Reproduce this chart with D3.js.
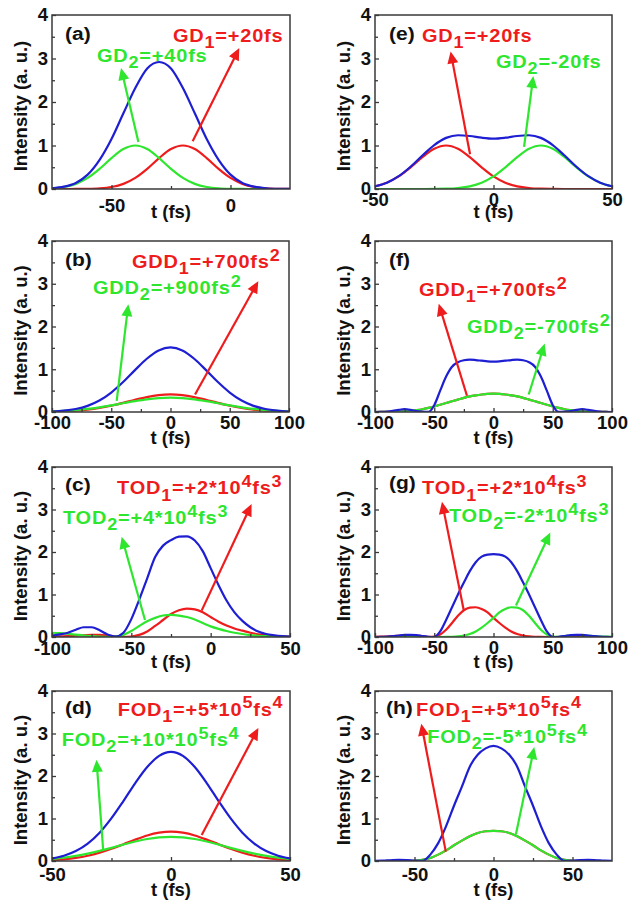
<!DOCTYPE html>
<html>
<head>
<meta charset="utf-8">
<script src="https://cdn.jsdelivr.net/npm/d3@7"></script>
<style>
  body { margin: 0; background: #fff; }
  text { font-family: "Liberation Sans", Arial, sans-serif; font-weight: bold; }
</style>
</head>
<body>
<svg id="chart" width="628" height="905"></svg>
<script>
// ---- values (intensity, a.u.) ----
var tA = [-75,-70,-65,-60,-55,-50,-45,-40,-35,-30,-25,-20,-15,-10,-5,0,5,10,15,20,25];
var redA = [0,0.0002,0.001,0.004,0.015,0.046,0.118,0.255,0.463,0.71,0.918,1,0.918,0.71,0.463,0.255,0.118,0.046,0.015,0.004,0.001];
var greenA = [0.015,0.046,0.118,0.255,0.463,0.71,0.918,1,0.918,0.71,0.463,0.255,0.118,0.046,0.015,0.004,0.001,0.0002,0,0,0];
var blueA = [0.016,0.053,0.14,0.33,0.67,1.15,1.74,2.32,2.77,2.92,2.77,2.32,1.74,1.15,0.67,0.33,0.14,0.053,0.016,0.004,0.001];

var tE = [-50,-45,-40,-35,-30,-25,-20,-15,-10,-5,0,5,10,15,20,25,30,35,40,45,50];
var redE = [0.062,0.144,0.289,0.498,0.733,0.925,1,0.925,0.733,0.498,0.289,0.144,0.062,0.023,0.007,0.002,0.0004,0,0,0,0];
var greenE = [0,0,0,0,0.0004,0.002,0.007,0.023,0.062,0.144,0.289,0.498,0.733,0.925,1,0.925,0.733,0.498,0.289,0.144,0.062];
var blueE = [0.062,0.146,0.294,0.511,0.77,1.01,1.175,1.236,1.219,1.179,1.158,1.179,1.219,1.236,1.175,1.01,0.77,0.511,0.294,0.146,0.062];

var tB = [-100,-90,-80,-70,-60,-50,-40,-30,-20,-10,0,10,20,30,40,50,60,70,80,90,100];
var redB = [0.007,0.015,0.030,0.056,0.095,0.149,0.214,0.285,0.349,0.394,0.41,0.394,0.349,0.285,0.214,0.149,0.095,0.056,0.030,0.015,0.007];
var greenB = [0.015,0.027,0.046,0.073,0.110,0.154,0.204,0.253,0.296,0.325,0.335,0.325,0.296,0.253,0.204,0.154,0.110,0.073,0.046,0.027,0.015];
var blueB = [0.012,0.031,0.070,0.144,0.268,0.455,0.700,0.980,1.246,1.44,1.51,1.44,1.246,0.980,0.700,0.455,0.268,0.144,0.070,0.031,0.012];

var tF = [-100,-95,-90,-85,-80,-75,-70,-65,-60,-55,-50,-45,-40,-35,-30,-25,-20,-15,-10,-5,0,5,10,15,20,25,30,35,40,45,50,55,60,65,70,75,80,85,90,95,100];
var redF = [0,0.001,0.002,0.004,0.008,0.015,0.025,0.043,0.065,0.095,0.13,0.17,0.21,0.25,0.29,0.33,0.365,0.39,0.41,0.425,0.43,0.425,0.41,0.39,0.365,0.33,0.29,0.25,0.21,0.17,0.13,0.095,0.065,0.043,0.025,0.015,0.008,0.004,0.002,0.001,0];
var greenF = [0,0.001,0.002,0.004,0.008,0.015,0.025,0.043,0.065,0.095,0.13,0.17,0.21,0.25,0.29,0.33,0.365,0.39,0.41,0.425,0.43,0.425,0.41,0.39,0.365,0.33,0.29,0.25,0.21,0.17,0.13,0.095,0.065,0.043,0.025,0.015,0.008,0.004,0.002,0.001,0];
var blueF = [0,0.002,0.008,0.025,0.05,0.065,0.05,0.022,0.008,0.001,0.16,0.5,0.83,1.06,1.165,1.21,1.225,1.215,1.2,1.185,1.18,1.185,1.2,1.215,1.225,1.21,1.165,1.06,0.83,0.5,0.16,0.001,0.008,0.022,0.05,0.065,0.05,0.025,0.008,0.002,0];

var tC = [-100,-95,-90,-85,-80,-75,-70,-65,-60,-55,-50,-45,-40,-35,-30,-25,-20,-15,-10,-5,0,5,10,15,20,25,30,35,40,45,50];
var redC = [0.01,0.015,0.02,0.03,0.04,0.05,0.05,0.035,0.015,0.002,0.01,0.05,0.13,0.26,0.4,0.54,0.63,0.67,0.65,0.58,0.47,0.36,0.27,0.2,0.15,0.1,0.065,0.04,0.025,0.015,0.008];
var greenC = [0.1,0.09,0.075,0.055,0.035,0.02,0.008,0.002,0.01,0.05,0.14,0.26,0.37,0.45,0.505,0.52,0.505,0.47,0.41,0.33,0.25,0.19,0.14,0.1,0.07,0.045,0.03,0.02,0.012,0.007,0.004];
var blueC = [0.03,0.06,0.1,0.17,0.23,0.23,0.16,0.06,0.01,0.1,0.42,0.88,1.38,1.88,2.15,2.28,2.36,2.37,2.27,2.02,1.62,1.22,0.86,0.58,0.38,0.23,0.13,0.07,0.04,0.02,0.01];

var tG = tF;
var redG = [0.005,0.008,0.012,0.02,0.03,0.04,0.045,0.035,0.015,0.002,0.01,0.06,0.17,0.33,0.5,0.63,0.69,0.70,0.66,0.58,0.45,0.33,0.22,0.13,0.07,0.035,0.015,0.006,0.002,0,0,0,0,0,0,0,0,0,0,0,0];
var greenG = [0,0,0,0,0,0,0,0,0,0,0,0,0.002,0.006,0.015,0.035,0.07,0.13,0.22,0.33,0.45,0.58,0.66,0.70,0.69,0.63,0.5,0.33,0.17,0.06,0.01,0.002,0.015,0.035,0.045,0.04,0.03,0.02,0.012,0.008,0.005];
var blueG = [0,0.003,0.01,0.02,0.035,0.048,0.052,0.042,0.022,0.006,0,0.13,0.4,0.7,1.0,1.28,1.55,1.76,1.89,1.94,1.95,1.94,1.89,1.76,1.55,1.28,1.0,0.7,0.4,0.13,0,0.006,0.022,0.042,0.052,0.048,0.035,0.02,0.01,0.003,0];

var tD = tE;
var redD = [0.021,0.040,0.073,0.124,0.196,0.288,0.394,0.503,0.60,0.666,0.69,0.666,0.60,0.503,0.394,0.288,0.196,0.124,0.073,0.040,0.021];
var greenD = [0.050,0.079,0.120,0.173,0.237,0.310,0.386,0.458,0.517,0.556,0.57,0.556,0.517,0.458,0.386,0.310,0.237,0.173,0.120,0.079,0.050];
var blueD = [0.060,0.123,0.233,0.409,0.666,1.007,1.41,1.834,2.21,2.475,2.57,2.475,2.21,1.834,1.41,1.007,0.666,0.409,0.233,0.123,0.060];

var tH = [-75,-70,-65,-60,-55,-50,-45,-40,-35,-30,-25,-20,-15,-10,-5,0,5,10,15,20,25,30,35,40,45,50,55,60,65,70,75];
var redH = [0,0,0.001,0.003,0.002,0.006,0.025,0.07,0.15,0.25,0.37,0.48,0.58,0.66,0.70,0.71,0.70,0.66,0.58,0.48,0.37,0.25,0.15,0.07,0.025,0.006,0.002,0.003,0.001,0,0];
var greenH = [0,0,0.001,0.003,0.002,0.006,0.025,0.07,0.15,0.25,0.37,0.48,0.58,0.66,0.70,0.71,0.70,0.66,0.58,0.48,0.37,0.25,0.15,0.07,0.025,0.006,0.002,0.003,0.001,0,0];
var blueH = [0.003,0.008,0.018,0.025,0.02,0.008,0.003,0.15,0.42,0.82,1.3,1.75,2.22,2.5,2.65,2.71,2.65,2.5,2.22,1.75,1.3,0.82,0.42,0.15,0.003,0.008,0.02,0.025,0.018,0.008,0.003];

// tick labels
var yTicks = [0, 1, 2, 3, 4];
var yMinor = [0.5, 1.5, 2.5, 3.5];
var xTicksA = [-50, 0], xMinorA = [-25];
var xTicks50 = [-50, 0, 50], xMinor50 = [-25, 25];
var xTicks100 = [-100, -50, 0, 50, 100], xMinor100 = [-75, -25, 25, 75];
var xTicksC = [-100, -50, 0, 50], xMinorC = [-75, -25, 25];

// ---- layout ----
var cRed = '#ee1c1c', cGreen = '#2fe62f', cBlue = '#1e1ed2', cAxis = '#3a3a3a', cText = '#111';
var svg = d3.select('#chart');

var panels = [
  { tag: '(a)', t: tA, red: redA, green: greenA, blue: blueA, dom: [-75, 25], xt: xTicksA, xm: xMinorA,
    box: [52, 15, 290, 189], tickY: 23, titleY: 29, tagOff: [13, 25],
    redLab: { at: [-24.2, 3.39], s: ['GD', '_1', '=+20fs'] }, greenLab: { at: [-56.1, 2.92], s: ['GD', '_2', '=+40fs'] },
    redArr: [[-15.9, 1.10], [3.7, 3.24]], greenArr: [[-38.7, 1.08], [-46, 2.78]] },
  { tag: '(e)', t: tE, red: redE, green: greenE, blue: blueE, dom: [-50, 50], xt: xTicks50, xm: xMinor50,
    box: [375, 15, 612, 189], tickY: 17, titleY: 29, tagOff: [14, 25],
    redLab: { at: [-30.2, 3.39], s: ['GD', '_1', '=+20fs'] }, greenLab: { at: [1.05, 2.78], s: ['GD', '_2', '=-20fs'] },
    redArr: [[-9.9, 0.80], [-18.1, 3.16]], greenArr: [[12.9, 0.97], [16.8, 2.6]] },
  { tag: '(b)', t: tB, red: redB, green: greenB, blue: blueB, dom: [-100, 100], xt: xTicks100, xm: xMinor100,
    box: [52, 241, 289, 412], tickY: 17, titleY: 32, tagOff: [13, 25],
    redLab: { at: [-32.5, 3.37], s: ['GDD', '_1', '=+700fs', '^2'] }, greenLab: { at: [-65.4, 2.76], s: ['GDD', '_2', '=+900fs', '^2'] },
    redArr: [[20.7, 0.41], [74.1, 3.06]], greenArr: [[-45.4, 0.26], [-35.6, 2.52]] },
  { tag: '(f)', t: tF, red: redF, green: greenF, blue: blueF, dom: [-100, 100], xt: xTicks100, xm: xMinor100,
    box: [375, 241, 612, 412], tickY: 17, titleY: 32, tagOff: [14, 25],
    redLab: { at: [-62.9, 2.72], s: ['GDD', '_1', '=+700fs', '^2'] }, greenLab: { at: [-22.4, 1.85], s: ['GDD', '_2', '=-700fs', '^2'] },
    redArr: [[-22.4, 0.38], [-46.2, 2.53]], greenArr: [[29.7, 0.41], [43.2, 1.6]] },
  { tag: '(c)', t: tC, red: redC, green: greenC, blue: blueC, dom: [-100, 50], xt: xTicksC, xm: xMinorC,
    box: [52, 467, 290, 637], tickY: 18, titleY: 31, tagOff: [13, 24],
    redLab: { at: [-59, 3.36], s: ['TOD', '_1', '=+2*10', '^4', 'fs', '^3'] }, greenLab: { at: [-93.1, 2.66], s: ['TOD', '_2', '=+4*10', '^4', 'fs', '^3'] },
    redArr: [[-5.7, 0.62], [25.8, 3.13]], greenArr: [[-41.4, 0.4], [-56.1, 2.36]] },
  { tag: '(g)', t: tG, red: redG, green: greenG, blue: blueG, dom: [-100, 100], xt: xTicks100, xm: xMinor100,
    box: [375, 467, 612, 637], tickY: 17, titleY: 31, tagOff: [14, 22],
    redLab: { at: [-60.3, 3.36], s: ['TOD', '_1', '=+2*10', '^4', 'fs', '^3'] }, greenLab: { at: [-37.6, 2.70], s: ['TOD', '_2', '=-2*10', '^4', 'fs', '^3'] },
    redArr: [[-25.1, 0.63], [-43.5, 3.18]], greenArr: [[19, 0.74], [47.9, 2.46]] },
  { tag: '(d)', t: tD, red: redD, green: greenD, blue: blueD, dom: [-50, 50], xt: xTicks50, xm: xMinor50,
    box: [52, 691, 290, 861], tickY: 20, titleY: 35, tagOff: [13, 23],
    redLab: { at: [-22.4, 3.42], s: ['FOD', '_1', '=+5*10', '^5', 'fs', '^4'] }, greenLab: { at: [-45.9, 2.71], s: ['FOD', '_2', '=+10*10', '^5', 'fs', '^4'] },
    redArr: [[12.9, 0.61], [36.7, 3.13]], greenArr: [[-28.5, 0.26], [-31.3, 2.38]] },
  { tag: '(h)', t: tH, red: redH, green: greenH, blue: blueH, dom: [-75, 75], xt: xTicks50, xm: xMinor50,
    box: [375, 691, 612, 861], tickY: 20, titleY: 35, tagOff: [11, 23],
    redLab: { at: [-49, 3.42], s: ['FOD', '_1', '=+5*10', '^5', 'fs', '^4'] }, greenLab: { at: [-42, 2.78], s: ['FOD', '_2', '=-5*10', '^5', 'fs', '^4'] },
    redArr: [[-30.2, 0.22], [-45.7, 3.23]], greenArr: [[14.2, 0.63], [25.8, 2.68]] }
];

function label(g, px, py, segs, color) {
  var t = g.append('text')
    .attr('transform', 'translate(' + px + ',' + py + ') scale(1,0.9)')
    .attr('fill', color).attr('font-size', 20).attr('letter-spacing', 0.8);
  var shift = 0;
  segs.forEach(function (s) {
    var k = 0, str = s;
    if (s[0] === '_') { k = 7; str = s.slice(1); }
    else if (s[0] === '^') { k = -8; str = s.slice(1); }
    t.append('tspan').attr('dy', k - shift).attr('font-size', k ? 18 : 20).text(str);
    shift = k;
  });
}

function arrow(g, p0, p1, color) {
  var dx = p1[0] - p0[0], dy = p1[1] - p0[1];
  var L = Math.sqrt(dx * dx + dy * dy), ux = dx / L, uy = dy / L;
  var hl = 12, hw = 5.5;
  var bx = p1[0] - ux * hl, by = p1[1] - uy * hl;
  g.append('line').attr('x1', p0[0]).attr('y1', p0[1]).attr('x2', bx + ux).attr('y2', by + uy)
    .attr('stroke', color).attr('stroke-width', 2.2);
  g.append('path')
    .attr('d', 'M' + p1[0] + ',' + p1[1] + 'L' + (bx - uy * hw) + ',' + (by + ux * hw) + 'L' + (bx + uy * hw) + ',' + (by - ux * hw) + 'Z')
    .attr('fill', color);
}

panels.forEach(function (p, pi) {
  var x = d3.scaleLinear().domain(p.dom).range([p.box[0], p.box[2]]);
  var y = d3.scaleLinear().domain([0, 4]).range([p.box[3], p.box[1]]);
  var g = svg.append('g');
  var w = p.box[2] - p.box[0], h = p.box[3] - p.box[1];

  g.append('clipPath').attr('id', 'clip' + pi)
    .append('rect').attr('x', p.box[0]).attr('y', p.box[1]).attr('width', w).attr('height', h);

  var line = d3.line()
    .x(function (d, i) { return x(p.t[i]); })
    .y(function (d) { return y(d); })
    .curve(d3.curveMonotoneX);

  var curves = g.append('g').attr('clip-path', 'url(#clip' + pi + ')');
  [[p.red, cRed], [p.green, cGreen], [p.blue, cBlue]].forEach(function (s) {
    curves.append('path').datum(s[0]).attr('d', line)
      .attr('fill', 'none').attr('stroke', s[1]).attr('stroke-width', 2.2);
  });

  // axes (ticks inward)
  var xa = g.append('g').attr('transform', 'translate(0,' + p.box[3] + ')')
    .call(d3.axisBottom(x).tickValues(p.xt).tickSize(-4).tickFormat(function (d) { return String(d); }));
  var xm = g.append('g').attr('transform', 'translate(0,' + p.box[3] + ')')
    .call(d3.axisBottom(x).tickValues(p.xm).tickSize(-3).tickFormat(''));
  var ya = g.append('g').attr('transform', 'translate(' + p.box[0] + ',0)')
    .call(d3.axisLeft(y).tickValues(yTicks).tickSize(-4).tickPadding(4).tickFormat(function (d) { return String(d); }));
  var ym = g.append('g').attr('transform', 'translate(' + p.box[0] + ',0)')
    .call(d3.axisLeft(y).tickValues(yMinor).tickSize(-3).tickFormat(''));
  [xa, xm, ya, ym].forEach(function (a) {
    a.select('.domain').remove();
    a.attr('font-size', 18.5).attr('font-family', null);
    a.selectAll('line').attr('stroke', cAxis).attr('stroke-width', 1.3);
    a.selectAll('text').attr('fill', cText);
  });
  xa.selectAll('text').attr('y', p.tickY).attr('dy', null);

  g.append('rect').attr('x', p.box[0]).attr('y', p.box[1]).attr('width', w).attr('height', h)
    .attr('fill', 'none').attr('stroke', cAxis).attr('stroke-width', 1.5);

  // axis titles
  g.append('text').attr('x', (p.box[0] + p.box[2]) / 2).attr('y', p.box[3] + p.titleY)
    .attr('text-anchor', 'middle').attr('font-size', 18.5).attr('fill', cText).text('t (fs)');
  g.append('text')
    .attr('transform', 'translate(' + (p.box[0] - 25) + ',' + ((p.box[1] + p.box[3]) / 2 + 4) + ') rotate(-90)')
    .attr('text-anchor', 'middle').attr('font-size', 18.5).attr('fill', cText).text('Intensity (a. u.)');

  // panel tag
  g.append('text')
    .attr('transform', 'translate(' + (p.box[0] + p.tagOff[0]) + ',' + (p.box[1] + p.tagOff[1]) + ') scale(1,0.88)')
    .attr('font-size', 21).attr('fill', cText).text(p.tag);

  // annotations
  label(g, x(p.redLab.at[0]), y(p.redLab.at[1]), p.redLab.s, cRed);
  label(g, x(p.greenLab.at[0]), y(p.greenLab.at[1]), p.greenLab.s, cGreen);
  arrow(g, [x(p.redArr[0][0]), y(p.redArr[0][1])], [x(p.redArr[1][0]), y(p.redArr[1][1])], cRed);
  arrow(g, [x(p.greenArr[0][0]), y(p.greenArr[0][1])], [x(p.greenArr[1][0]), y(p.greenArr[1][1])], cGreen);
});
</script>
</body>
</html>
